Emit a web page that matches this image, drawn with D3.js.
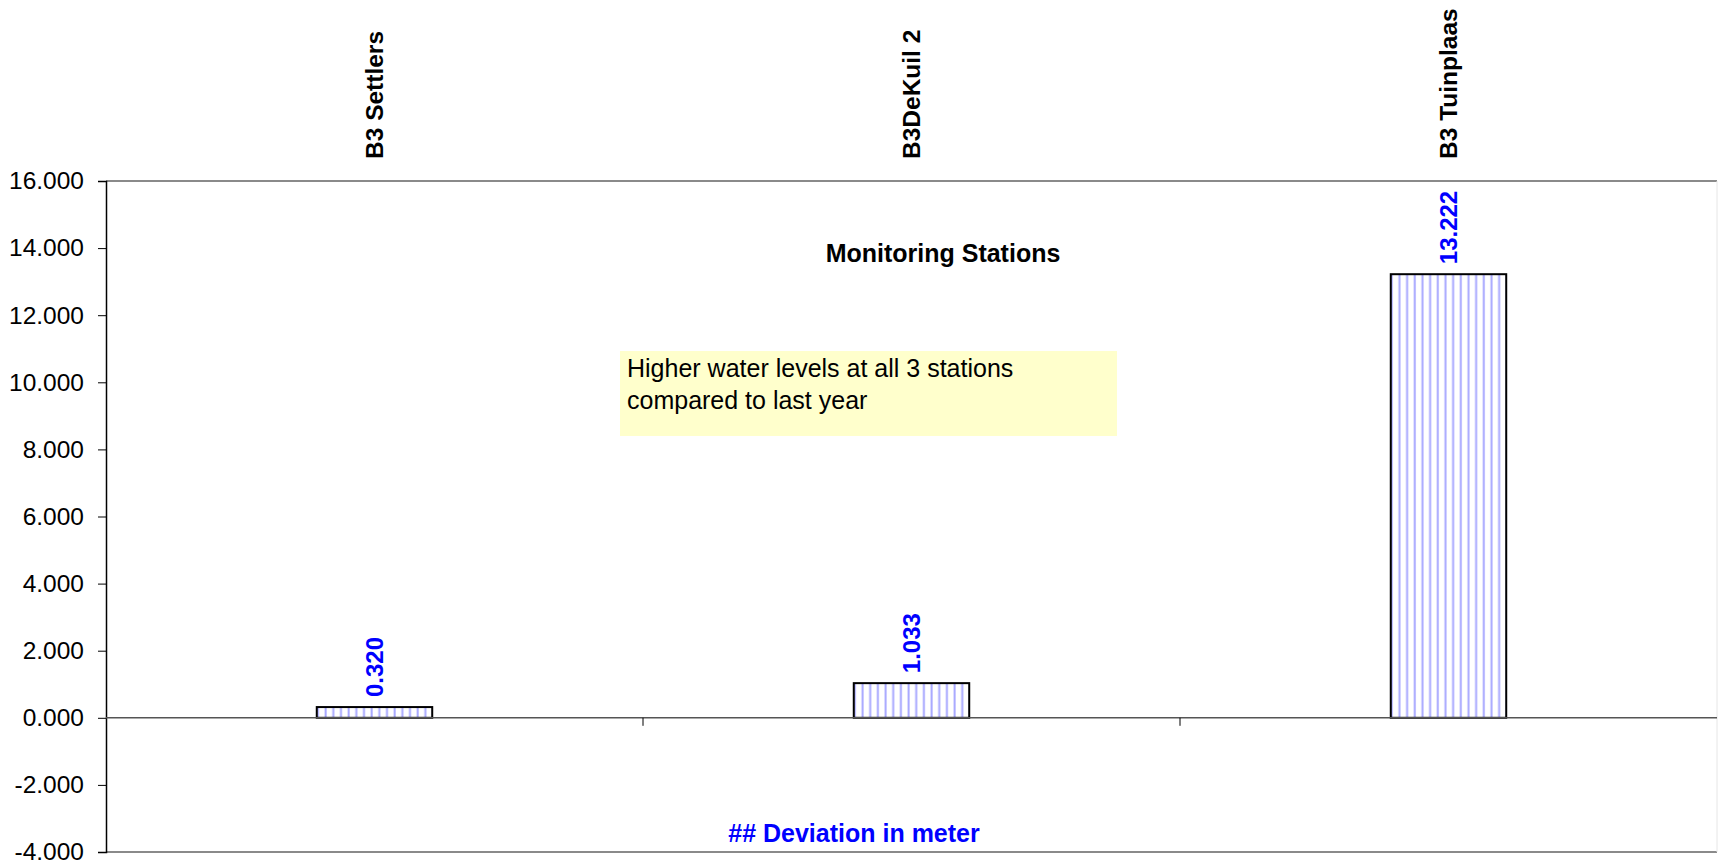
<!DOCTYPE html>
<html>
<head>
<meta charset="utf-8">
<script src="https://cdn.jsdelivr.net/npm/d3@7"></script>
<style>
  html, body { margin: 0; padding: 0; background: #ffffff; }
  svg { display: block; font-family: "Liberation Sans", Arial, Helvetica, sans-serif; }
</style>
</head>
<body>
<svg id="chart" width="1718" height="865"></svg>
<script>
// ---- data ----
const categories = ["B3 Settlers", "B3DeKuil 2", "B3 Tuinplaas"];
const values = [0.320, 1.033, 13.222];
const yTicks = [-4, -2, 0, 2, 4, 6, 8, 10, 12, 14, 16];
const chartTitle = "Monitoring Stations";
const noteLines = ["Higher water levels at all 3 stations", "compared to last year"];
const footnote = "## Deviation in meter";

// ---- layout ----
const svg = d3.select("#chart");
const plotLeft = 106, plotRight = 1717, plotTop = 181, plotBottom = 852;
const fmt = d3.formatLocale({decimal: ".", thousands: ",", grouping: [3], currency: ["", ""], minus: "-"}).format(".3f");

const x = d3.scaleBand().domain(categories).range([plotLeft, plotRight]).paddingInner(0).paddingOuter(0);
const y = d3.scaleLinear().domain([-4, 16]).range([plotBottom, plotTop]);
const barW = x.bandwidth() * 0.215;

// hatch pattern
const defs = svg.append("defs");
const pat = defs.append("pattern")
  .attr("id", "vhatch").attr("patternUnits", "userSpaceOnUse")
  .attr("width", 7.67).attr("height", 10);
pat.append("rect").attr("width", 7.67).attr("height", 10).attr("fill", "#ffffff");
pat.append("rect").attr("x", 2.5).attr("width", 2).attr("height", 10).attr("fill", "#a8a8ff");

// plot frame lines
svg.append("line").attr("x1", plotLeft).attr("x2", plotRight).attr("y1", y(16)).attr("y2", y(16))
  .attr("stroke", "#8a8a8a").attr("stroke-width", 2);
svg.append("line").attr("x1", plotLeft).attr("x2", plotRight).attr("y1", y(-4)).attr("y2", y(-4))
  .attr("stroke", "#8a8a8a").attr("stroke-width", 2);
svg.append("line").attr("x1", plotRight).attr("x2", plotRight).attr("y1", y(16)).attr("y2", y(-4))
  .attr("stroke", "#e6e6e6").attr("stroke-width", 1);

// y axis
const yAxis = d3.axisLeft(y).tickValues(yTicks).tickFormat(fmt).tickSize(8).tickPadding(14);
const gy = svg.append("g").attr("transform", `translate(${plotLeft},0)`).call(yAxis);
gy.select(".domain").attr("stroke", "#000").attr("stroke-width", 1.5);
gy.selectAll(".tick line").attr("stroke", "#000").attr("stroke-width", 1);
gy.selectAll(".tick text").attr("fill", "#000").style("font-size", "24.5px")
  .style("font-family", "'Liberation Sans', Arial, sans-serif");

// title
svg.append("text").attr("x", 943).attr("y", 262).attr("text-anchor", "middle")
  .style("font-size", "25px").style("font-weight", "bold").attr("fill", "#000").text(chartTitle);

// note box
svg.append("rect").attr("x", 620).attr("y", 351).attr("width", 497).attr("height", 85).attr("fill", "#ffffcc");
svg.append("g").selectAll("text").data(noteLines).join("text")
  .attr("x", 627).attr("y", (d, i) => 377 + i * 32)
  .style("font-size", "25px").attr("fill", "#000").text(d => d);

// bars
svg.append("g").selectAll("rect").data(values).join("rect")
  .attr("x", (d, i) => x(categories[i]) + x.bandwidth() / 2 - barW / 2)
  .attr("y", d => y(Math.max(0, d)))
  .attr("width", barW)
  .attr("height", d => Math.abs(y(d) - y(0)))
  .attr("fill", "url(#vhatch)")
  .attr("stroke", "#000").attr("stroke-width", 2);

// zero axis line with category boundary ticks
svg.append("line").attr("x1", plotLeft).attr("x2", plotRight).attr("y1", y(0)).attr("y2", y(0))
  .attr("stroke", "#555").attr("stroke-width", 1.5);
svg.append("g").selectAll("line").data(categories.slice(1)).join("line")
  .attr("x1", d => x(d)).attr("x2", d => x(d))
  .attr("y1", y(0)).attr("y2", y(0) + 8)
  .attr("stroke", "#000").attr("stroke-width", 1);

// value labels
svg.append("g").selectAll("text").data(values).join("text")
  .attr("transform", (d, i) => `translate(${x(categories[i]) + x.bandwidth() / 2 + 8},${y(d) - 10}) rotate(-90)`)
  .attr("text-anchor", "start")
  .style("font-size", "24px").style("font-weight", "bold").attr("fill", "#0000ff")
  .text(d => fmt(d));

// category labels (top, rotated)
svg.append("g").selectAll("text").data(categories).join("text")
  .attr("transform", d => `translate(${x(d) + x.bandwidth() / 2 + 8},159) rotate(-90)`)
  .attr("text-anchor", "start")
  .style("font-size", "24.5px").style("font-weight", "bold").attr("fill", "#000")
  .text(d => d);

// footnote
svg.append("text").attr("x", 854).attr("y", 842).attr("text-anchor", "middle")
  .style("font-size", "25px").style("font-weight", "bold").attr("fill", "#0000ff").text(footnote);
</script>
</body>
</html>
